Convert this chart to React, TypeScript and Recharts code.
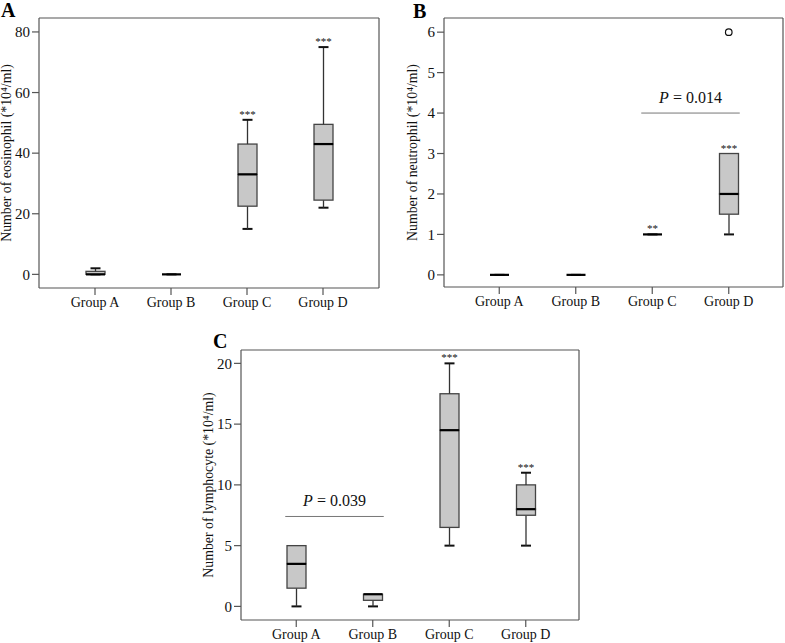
import React from "react";
import { ComposedChart, Bar, Scatter, XAxis, YAxis, ReferenceLine, LabelList } from "recharts";

const groups = ["Group A", "Group B", "Group C", "Group D"];

// A: eosinophil
const eosMin = [0, 0, 15, 22];
const eosQ1 = [0, 0, 22.5, 24.5];
const eosMedian = [0, 0, 33, 43];
const eosQ3 = [1, 0, 43, 49.5];
const eosMax = [2, 0, 51, 75];
const eosSig = ["", "", "***", "***"];
const eosTicks = [0, 20, 40, 60, 80];

// B: neutrophil
const neuMin = [0, 0, 1, 1];
const neuQ1 = [0, 0, 1, 1.5];
const neuMedian = [0, 0, 1, 2];
const neuQ3 = [0, 0, 1, 3];
const neuMax = [0, 0, 1, 3];
const neuOutlier = [null, null, null, 6];
const neuSig = ["", "", "**", "***"];
const neuTicks = [0, 1, 2, 3, 4, 5, 6];
const neuPGroups = ["Group C", "Group D"];
const neuPLevel = 4;
const neuPValue = "0.014";

// C: lymphocyte
const lymMin = [0, 0, 5, 5];
const lymQ1 = [1.5, 0.5, 6.5, 7.5];
const lymMedian = [3.5, 1, 14.5, 8];
const lymQ3 = [5, 1, 17.5, 10];
const lymMax = [5, 1, 20, 11];
const lymSig = ["", "", "***", "***"];
const lymTicks = [0, 5, 10, 15, 20];
const lymPGroups = ["Group A", "Group B"];
const lymPLevel = 7.4;
const lymPValue = "0.039";

const FONT = "'Liberation Serif', 'Times New Roman', serif";
const AXIS = "#555";

function buildRows(mins: number[], q1s: number[], meds: number[], q3s: number[], maxs: number[], sig: string[], outliers?: (number | null)[]) {
  return groups.map((g, i) => ({
    group: g,
    base: mins[i],
    lowWhisker: q1s[i] - mins[i],
    lowBox: meds[i] - q1s[i],
    highBox: q3s[i] - meds[i],
    highWhisker: maxs[i] - q3s[i],
    sig: sig[i],
    outlier: outliers ? outliers[i] : null,
  }));
}

const BaseShape = (p: any) => {
  const cx = p.x + p.width / 2;
  return <line x1={cx - 5} x2={cx + 5} y1={p.y} y2={p.y} stroke="#111" strokeWidth={2} />;
};
const LowWhiskerShape = (p: any) => {
  const cx = p.x + p.width / 2;
  return <line x1={cx} x2={cx} y1={p.y} y2={p.y + p.height} stroke="#333" strokeWidth={1.3} />;
};
const LowBoxShape = (p: any) =>
  p.height > 0 ? <rect x={p.x} y={p.y} width={p.width} height={p.height} fill="#c8c8c8" stroke="#444" strokeWidth={1.3} /> : <g />;
const HighBoxShape = (p: any) => (
  <g>
    {p.height > 0 && <rect x={p.x} y={p.y} width={p.width} height={p.height} fill="#c8c8c8" stroke="#444" strokeWidth={1.3} />}
    <line x1={p.x} x2={p.x + p.width} y1={p.y + p.height} y2={p.y + p.height} stroke="#000" strokeWidth={2.2} />
  </g>
);
const HighWhiskerShape = (p: any) => {
  const cx = p.x + p.width / 2;
  return (
    <g>
      {p.height > 0 && <line x1={cx} x2={cx} y1={p.y} y2={p.y + p.height} stroke="#333" strokeWidth={1.3} />}
      {p.height > 0 && <line x1={cx - 5} x2={cx + 5} y1={p.y} y2={p.y} stroke="#111" strokeWidth={2} />}
    </g>
  );
};
const OutlierShape = (p: any) =>
  p.payload && p.payload.outlier != null ? <circle cx={p.cx} cy={p.cy} r={3.3} fill="#fff" stroke="#111" strokeWidth={1.2} /> : <g />;

const pShape = (pValue: string) => (p: any) => {
  const x1 = Math.min(p.x1, p.x2) - 11;
  const x2 = Math.max(p.x1, p.x2) + 11;
  const mid = (x1 + x2) / 2;
  return (
    <g>
      <line x1={x1} x2={x2} y1={p.y1} y2={p.y2} stroke="#777" strokeWidth={1} />
      <text x={mid} y={p.y1 - 10} textAnchor="middle" fontFamily={FONT} fontSize={16} fill="#111">
        <tspan fontStyle="italic">P</tspan> = {pValue}
      </text>
    </g>
  );
};

const yLabel = (text: string, dx: number) => (props: any) => {
  const vb = props.viewBox;
  const x = vb.x + dx;
  const cy = vb.y + vb.height / 2;
  return (
    <text x={x} y={cy} transform={`rotate(-90, ${x}, ${cy})`} textAnchor="middle" fontFamily={FONT} fontSize={13.8} fill="#111">
      {text}
    </text>
  );
};

const SigLabel = (p: any) => {
  if (!p.value) return null;
  const x = p.x + p.width / 2;
  return (
    <text x={x} y={p.y - 2} textAnchor="middle" fontFamily={FONT} fontSize={11} fill="#111">
      {p.value}
    </text>
  );
};

type PanelProps = {
  rows: any[];
  width: number;
  height: number;
  margin: any;
  yWidth: number;
  xHeight: number;
  domain: [number, number];
  ticks: number[];
  pad: { left: number; right: number };
  label: string;
  labelDx: number;
  pGroups?: string[];
  pLevel?: number;
  pValue?: string;
  outliers?: boolean;
};

function BoxPanel(props: PanelProps) {
  const { rows, width, height, margin, yWidth, xHeight, domain, ticks, pad, label, labelDx } = props;
  return (
    <ComposedChart width={width} height={height} data={rows} margin={margin} barCategoryGap={0}>
      <XAxis dataKey="group" tickSize={7} height={xHeight} padding={pad} stroke={AXIS} strokeWidth={1.2}
        tick={{ fill: "#111", fontSize: 14, fontFamily: FONT }} interval={0} />
      <XAxis xAxisId="top" dataKey="group" orientation="top" height={1} tick={false} tickLine={false} padding={pad} stroke={AXIS} strokeWidth={1.2} />
      <YAxis type="number" domain={domain} ticks={ticks} allowDataOverflow width={yWidth} tickSize={7} stroke={AXIS} strokeWidth={1.2}
        tick={{ fill: "#111", fontSize: 15, fontFamily: FONT }} label={{ content: yLabel(label, labelDx) }} />
      <YAxis yAxisId="right" orientation="right" type="number" domain={domain} allowDataOverflow width={1} tick={false} tickLine={false} stroke={AXIS} strokeWidth={1.2} />
      <Bar dataKey="base" stackId="box" barSize={19} shape={BaseShape} isAnimationActive={false} />
      <Bar dataKey="lowWhisker" stackId="box" barSize={19} shape={LowWhiskerShape} isAnimationActive={false} />
      <Bar dataKey="lowBox" stackId="box" barSize={19} shape={LowBoxShape} isAnimationActive={false} />
      <Bar dataKey="highBox" stackId="box" barSize={19} shape={HighBoxShape} isAnimationActive={false} />
      <Bar dataKey="highWhisker" stackId="box" barSize={19} shape={HighWhiskerShape} isAnimationActive={false}>
        <LabelList dataKey="sig" content={SigLabel} />
      </Bar>
      {props.outliers && <Scatter dataKey="outlier" shape={OutlierShape} isAnimationActive={false} />}
      {props.pGroups && (
        <ReferenceLine
          segment={[{ x: props.pGroups[0], y: props.pLevel }, { x: props.pGroups[1], y: props.pLevel }]}
          shape={pShape(props.pValue || "")}
        />
      )}
    </ComposedChart>
  );
}

const letterStyle: React.CSSProperties = { position: "absolute", fontFamily: FONT, fontWeight: "bold", fontSize: 20, lineHeight: 1 };

export default function App() {
  const eosRows = buildRows(eosMin, eosQ1, eosMedian, eosQ3, eosMax, eosSig);
  const neuRows = buildRows(neuMin, neuQ1, neuMedian, neuQ3, neuMax, neuSig, neuOutlier);
  const lymRows = buildRows(lymMin, lymQ1, lymMedian, lymQ3, lymMax, lymSig);
  return (
    <div style={{ position: "absolute", left: 0, top: 0, width: 785, height: 643, background: "#fff", fontFamily: FONT }}>
      <div style={{ ...letterStyle, left: 1, top: 0 }}>A</div>
      <div style={{ ...letterStyle, left: 413, top: 1 }}>B</div>
      <div style={{ ...letterStyle, left: 213, top: 331 }}>C</div>
      <div style={{ position: "absolute", left: 0, top: 0 }}>
        <BoxPanel rows={eosRows} width={385} height={314} margin={{ top: 17, right: 5, bottom: 0, left: 0 }}
          yWidth={39} xHeight={26} domain={[-4.5, 84.6]} ticks={eosTicks} pad={{ left: 18, right: 18 }}
          label="Number of eosinophil (*10⁴/ml)" labelDx={11} />
      </div>
      <div style={{ position: "absolute", left: 390, top: 0 }}>
        <BoxPanel rows={neuRows} width={395} height={314} margin={{ top: 17, right: 1, bottom: 0, left: 0 }}
          yWidth={54} xHeight={27} domain={[-0.3, 6.35]} ticks={neuTicks} pad={{ left: 17, right: 16 }}
          label="Number of neutrophil (*10⁴/ml)" labelDx={27} outliers
          pGroups={neuPGroups} pLevel={neuPLevel} pValue={neuPValue} />
      </div>
      <div style={{ position: "absolute", left: 190, top: 330 }}>
        <BoxPanel rows={lymRows} width={395} height={313} margin={{ top: 19, right: 5, bottom: 0, left: 0 }}
          yWidth={51} xHeight={23} domain={[-1.12, 21.1]} ticks={lymTicks} pad={{ left: 17, right: 15 }}
          label="Number of lymphocyte (*10⁴/ml)" labelDx={23}
          pGroups={lymPGroups} pLevel={lymPLevel} pValue={lymPValue} />
      </div>
    </div>
  );
}
